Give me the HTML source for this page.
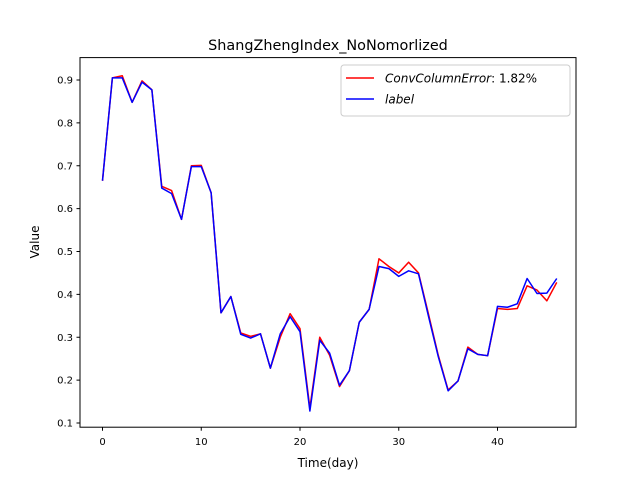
<!DOCTYPE html>
<html><head><meta charset="utf-8"><style>
body{margin:0;background:#fff;}
svg text{font-family:"DejaVu Sans","Liberation Sans",sans-serif;fill:#000;}
</style></head><body>
<svg id="chart" width="640" height="480" xmlns="http://www.w3.org/2000/svg">
<rect width="640" height="480" fill="#fff"/>
<text x="328" y="50" font-size="14.4" text-anchor="middle">ShangZhengIndex_NoNomorlized</text>
<g id="ticks"></g>
<g id="series"></g>
<rect x="80" y="57.6" width="496" height="369.6" fill="none" stroke="#000" stroke-width="1"/>
<text x="328" y="467" font-size="12" text-anchor="middle">Time(day)</text>
<text transform="translate(39,242) rotate(-90)" font-size="12" text-anchor="middle">Value</text>
<g>
<rect x="341" y="65" width="229" height="51" rx="3" fill="#fff" stroke="#ccc"/>
<line x1="346" y1="78" x2="374" y2="78" stroke="red" stroke-width="1.5"/>
<text x="385" y="82.5" font-size="12"><tspan font-style="italic">ConvColumnError</tspan>: 1.82%</text>
<line x1="346" y1="99" x2="374" y2="99" stroke="blue" stroke-width="1.5"/>
<text x="385" y="103.5" font-size="12" font-style="italic">label</text>
</g>
</svg>
<script>
const predValues=[0.665,0.905,0.910,0.848,0.898,0.877,0.652,0.642,0.575,0.700,0.701,0.637,0.357,0.395,0.310,0.302,0.308,0.228,0.300,0.355,0.320,0.135,0.300,0.258,0.185,0.222,0.335,0.365,0.483,0.465,0.450,0.475,0.450,0.355,0.258,0.177,0.198,0.277,0.260,0.257,0.367,0.365,0.367,0.420,0.410,0.385,0.428];
const labelValues=[0.665,0.905,0.905,0.848,0.895,0.877,0.648,0.635,0.575,0.698,0.698,0.637,0.357,0.395,0.307,0.298,0.308,0.228,0.308,0.348,0.313,0.128,0.293,0.263,0.188,0.222,0.335,0.365,0.465,0.460,0.442,0.455,0.448,0.350,0.255,0.175,0.198,0.273,0.260,0.257,0.372,0.370,0.378,0.437,0.402,0.403,0.437];
const xTicks=[0,10,20,30,40];
const yTicks=[0.1,0.2,0.3,0.4,0.5,0.6,0.7,0.8,0.9];
const NS="http://www.w3.org/2000/svg";
function xs(v){return 102.5+v*9.875;}
function ys(v){return 423-(v-0.1)*428.75;}
const tg=document.getElementById('ticks');
xTicks.forEach(t=>{
  const l=document.createElementNS(NS,'line');
  l.setAttribute('x1',xs(t));l.setAttribute('x2',xs(t));l.setAttribute('y1',427.2);l.setAttribute('y2',430.7);l.setAttribute('stroke','#000');
  
  
  tg.appendChild(l);
  const tx=document.createElementNS(NS,'text');
  tx.setAttribute('x',xs(t));tx.setAttribute('y',445);tx.setAttribute('font-size','10');tx.setAttribute('text-anchor','middle');
  tx.textContent=t;
  
  
  tg.appendChild(tx);
});
yTicks.forEach(t=>{
  const l=document.createElementNS(NS,'line');
  l.setAttribute('x1',76.5);l.setAttribute('x2',80);l.setAttribute('y1',ys(t));l.setAttribute('y2',ys(t));l.setAttribute('stroke','#000');
  
  
  tg.appendChild(l);
  const tx=document.createElementNS(NS,'text');
  tx.setAttribute('x',73);tx.setAttribute('y',ys(t)+3.5);tx.setAttribute('font-size','10');tx.setAttribute('text-anchor','end');
  tx.textContent=t.toFixed(1);
  
  
  tg.appendChild(tx);
});
const sg=document.getElementById('series');
function drawLine(vals,color,name){
  const p=document.createElementNS(NS,'polyline');
  p.setAttribute('points',vals.map((v,i)=>xs(i)+','+ys(v)).join(' '));
  p.setAttribute('fill','none');p.setAttribute('stroke',color);p.setAttribute('stroke-width','1.5');p.setAttribute('stroke-linejoin','round');
  
  
  sg.appendChild(p);
}
drawLine(predValues,'red','prediction-line');
drawLine(labelValues,'blue','label-line');
</script>
</body></html>
